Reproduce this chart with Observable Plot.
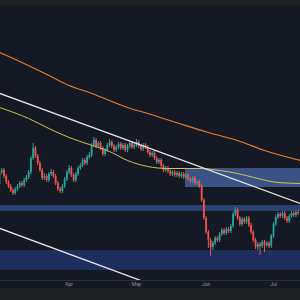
<!DOCTYPE html>
<html><head><meta charset="utf-8">
<script src="https://cdn.jsdelivr.net/npm/d3@7"></script>
<script src="https://cdn.jsdelivr.net/npm/@observablehq/plot@0.6"></script>
<style>
html,body{margin:0;padding:0;background:#202124;width:300px;height:300px;overflow:hidden}
#top{height:6px;background:#1f2023}
#chart svg{display:block}
</style></head><body>
<div id="top"></div><div id="chart"></div>
<script>
// Daily candles, starting 1 March (price units are arbitrary)
const startDay = Date.UTC(2025, 2, 1);
const open  = [96,108,110,104,98,94,90,87,91,94,97,95,100,103,108,122,132,124,117,110,102,104,100,106,108,104,97,91,89,94,101,108,112,105,100,106,112,115,120,117,123,125,135,140,134,137,132,126,130,135,138,134,130,133,136,132,135,130,134,137,133,135,138,134,131,135,133,128,125,127,122,118,120,114,110,112,109,106,108,105,107,104,106,103,105,101,99,102,97,98,94,80,62,48,40,33,37,42,40,46,50,47,51,49,54,66,70,62,56,61,58,62,55,48,40,33,36,34,38,35,37,34,44,56,63,66,64,67,62,59,64,67,65,68];
const high  = [110,112,112,106,100,96,92,93,96,99,99,102,105,110,124,137,134,126,119,112,107,106,108,111,110,106,99,93,96,103,110,115,114,107,108,114,117,122,122,125,128,137,143,142,139,139,134,132,137,141,140,136,135,138,138,137,137,136,139,139,137,141,140,136,137,137,135,130,129,129,124,122,122,116,114,114,111,110,110,109,109,108,108,107,107,103,104,104,100,100,96,82,64,50,42,39,44,44,48,52,52,53,53,56,68,73,72,64,63,63,64,64,57,50,42,38,38,40,40,39,39,46,58,65,68,68,69,69,64,66,69,69,70,70];
const low   = [94,106,102,96,92,88,85,85,89,92,93,93,98,101,106,120,122,115,108,100,100,98,98,104,102,95,89,87,87,92,99,106,103,98,98,104,110,113,115,115,121,123,133,132,132,130,124,124,128,133,132,128,128,131,130,130,128,128,132,131,131,133,132,129,129,131,126,123,123,120,116,116,112,108,108,107,104,104,103,103,102,102,101,101,99,97,97,95,95,92,78,60,46,32,24,30,35,38,38,44,45,45,47,47,52,64,60,54,54,56,56,53,46,38,31,30,25,32,28,33,32,32,42,54,61,62,62,60,57,57,62,63,63,65];
const close = [108,110,104,98,94,90,87,91,94,97,95,100,103,108,122,132,124,117,110,102,104,100,106,108,104,97,91,89,94,101,108,112,105,100,106,112,115,120,117,123,125,135,140,134,137,132,126,130,135,138,134,130,133,136,132,135,130,134,137,133,135,138,134,131,135,133,128,125,127,122,118,120,114,110,112,109,106,108,105,107,104,106,103,105,101,99,102,97,98,94,80,62,48,40,33,37,42,40,46,50,47,51,49,54,66,70,62,56,61,58,62,55,48,40,33,36,34,38,35,37,34,44,56,63,66,64,67,62,59,64,67,65,68,67];

// Moving averages (day offset, value)
const slowMaDays = [0,9,22,31,40,49,57,66,80,93,106,118,134];
const slowMaVals = [228,219,205,195,188,180,173,167,157,148,140,130,120];
const fastMaDays = [0,13,22,31,40,49,57,66,75,89,98,106,115,124,134];
const fastMaVals = [173,162,152,143,136,129,120,114,112,112,110,107,102,98,97];

// Descending channel (day offset, value)
const trendDays  = [-1, 134];
const upperTrend = [188, 77];
const lowerTrend = [53, -59];

// Horizontal zones
const zoneStart = [82.8, -2, -2];
const zoneEnd   = [136, 136, 136];
const zoneTop   = [112, 75, 30];
const zoneBot   = [93, 69, 10];
const zoneFill  = ["#3a5387", "#2c4070", "#1d2e5e"];

const day = d => new Date(startDay + d * 864e5);
const candles = close.map((c, i) => ({date: day(i), open: open[i], high: high[i], low: low[i], close: c}));
const colorOf = d => d.close >= d.open ? "#26a69a" : "#ef5350";
const slowMa = slowMaDays.map((d, i) => ({date: day(d), v: slowMaVals[i]}));
const fastMa = fastMaDays.map((d, i) => ({date: day(d), v: fastMaVals[i]}));
const trends = [
  ...trendDays.map((d, i) => ({date: day(d), v: upperTrend[i], k: "u"})),
  ...trendDays.map((d, i) => ({date: day(d), v: lowerTrend[i], k: "l"}))
];
const zones = zoneStart.map((s, i) => ({x1: day(s), x2: day(zoneEnd[i]), y1: zoneBot[i], y2: zoneTop[i], fill: zoneFill[i]}));

const chart = Plot.plot({
  width: 300, height: 282,
  marginTop: 0, marginRight: 0, marginLeft: 0, marginBottom: 8,
  x: {type: "utc", domain: [day(0.445), day(0.445 + 133.57)]},
  y: {domain: [0, 274], axis: null},
  style: {background: "#151924", color: "#8a8f9a", fontFamily: "Roboto", fontSize: "5px"},
  marks: [
    Plot.rect(zones, {x1: "x1", x2: "x2", y1: "y1", y2: "y2", fill: "fill", clip: true}),
    Plot.ruleY([0], {stroke: "#2a2e39"}),
    Plot.ruleX(candles, {x: "date", y1: "low", y2: "high", stroke: colorOf, strokeWidth: 1}),
    Plot.ruleX(candles, {x: "date", y1: "open", y2: "close", stroke: colorOf, strokeWidth: 1.8}),
    Plot.line(slowMa, {x: "date", y: "v", stroke: "#e07d2a", strokeWidth: 1.1, curve: "monotone-x", clip: true}),
    Plot.line(fastMa, {x: "date", y: "v", stroke: "#cfc24e", strokeWidth: 1, curve: "monotone-x", clip: true}),
    Plot.line(trends, {x: "date", y: "v", z: "k", stroke: "#e6e8ee", strokeWidth: 1.3, clip: true}),
    Plot.axisX({ticks: d3.utcMonth, tickFormat: d3.utcFormat("%b"), tickSize: 0, tickPadding: 2, fontSize: 5, fill: "#8a8f9a"})
  ]
});
document.getElementById("chart").append(chart);
</script></body></html>
